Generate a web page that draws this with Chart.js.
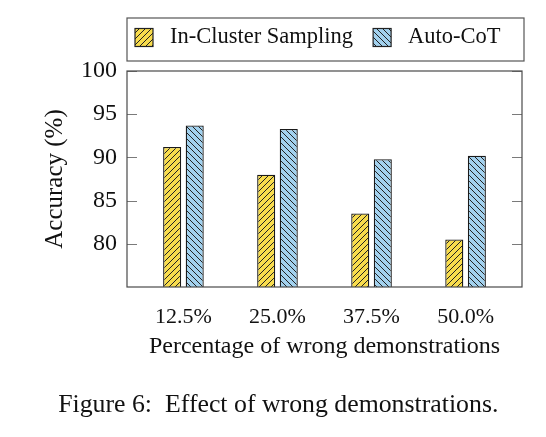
<!DOCTYPE html>
<html>
<head>
<meta charset="utf-8">
<script src="https://cdn.jsdelivr.net/npm/chart.js@4.4.1/dist/chart.umd.min.js"></script>
<style>
  body { margin: 0; background: #fff; }
  #wrap { position: relative; width: 546px; height: 437px; }
</style>
</head>
<body>
<div id="wrap"><canvas id="myChart" width="546" height="437"></canvas></div>
<script>
// data
var categories = ['12.5%', '25.0%', '37.5%', '50.0%'];
var inCluster = [91.2, 88.0, 83.5, 80.5];
var autoCoT = [93.7, 93.3, 89.8, 90.2];
var yTicks = [80, 85, 90, 95, 100];

var SERIF = '"Liberation Serif", "Times New Roman", serif';

// diagonal hatch fill, dir 1 = "/", -1 = "\"
function hatch(fill, dir) {
	var s = 6;
	var c = document.createElement('canvas');
	c.width = s; c.height = s;
	var g = c.getContext('2d');
	g.fillStyle = fill;
	g.fillRect(0, 0, s, s);
	g.strokeStyle = '#222';
	g.lineWidth = 1;
	g.beginPath();
	if (dir > 0) {
		g.moveTo(-1, s + 1); g.lineTo(s + 1, -1);
		g.moveTo(-1, 1); g.lineTo(1, -1);
		g.moveTo(s - 1, s + 1); g.lineTo(s + 1, s - 1);
	} else {
		g.moveTo(-1, -1); g.lineTo(s + 1, s + 1);
		g.moveTo(s - 1, -1); g.lineTo(s + 1, 1);
		g.moveTo(-1, s - 1); g.lineTo(1, s + 1);
	}
	g.stroke();
	return g.createPattern(c, 'repeat');
}

var ctx = document.getElementById('myChart').getContext('2d');
var yellowFill = hatch('#f8dc4c', 1);
var blueFill = hatch('#a2d1ee', -1);

function points(arr) {
	return arr.map(function(v, i) { return { x: i, y: v }; });
}

// frame, inward ticks, legend box and caption
var decor = {
	id: 'decor',
	afterDatasetsDraw: function(chart) {
		var a = chart.chartArea;
		var c = chart.ctx;
		var y = chart.scales.y;
		c.save();
		c.strokeStyle = '#7a7a7a';
		c.lineWidth = 1;
		yTicks.forEach(function(t) {
			var py = Math.round(y.getPixelForValue(t)) + 0.5;
			c.beginPath();
			c.moveTo(a.left, py); c.lineTo(a.left + 10, py);
			c.moveTo(a.right, py); c.lineTo(a.right - 10, py);
			c.stroke();
		});
		c.strokeStyle = '#4a4a4a';
		c.lineWidth = 1.2;
		c.strokeRect(a.left, a.top, a.right - a.left, a.bottom - a.top);

		// legend
		var top = a.top - 53, bottom = a.top - 10;
		c.strokeStyle = '#555';
		c.lineWidth = 1.2;
		c.strokeRect(a.left, top, a.right - a.left + 2, bottom - top);
		c.font = '22.5px ' + SERIF;
		c.textBaseline = 'middle';
		c.textAlign = 'left';
		c.fillStyle = '#111';
		var cy = (top + bottom) / 2 - 2;
		var x = a.left + 8;
		chart.data.datasets.forEach(function(ds) {
			c.fillStyle = ds.backgroundColor;
			c.fillRect(x, cy - 9, 18, 18);
			c.strokeStyle = '#222';
			c.lineWidth = 1.2;
			c.strokeRect(x, cy - 9, 18, 18);
			x += 18 + 17;
			c.fillStyle = '#111';
			c.fillText(ds.label, x, cy);
			x += c.measureText(ds.label).width + 20;
		});

		// caption
		c.font = '25.8px ' + SERIF;
		c.textBaseline = 'alphabetic';
		c.textAlign = 'left';
		c.fillText('Effect of wrong demonstrations.', 165, 412);
		c.textAlign = 'right';
		c.fillText('Figure 6:', 152, 412);
		c.restore();
	}
};

var myChart = new Chart(ctx, {
	type: 'bar',
	data: {
		datasets: [
			{
				label: 'In-Cluster Sampling',
				data: points(inCluster),
				backgroundColor: yellowFill,
				borderColor: '#1a1a1a',
				borderWidth: 1.3,
				borderSkipped: false
			},
			{
				label: 'Auto-CoT',
				data: points(autoCoT),
				backgroundColor: blueFill,
				borderColor: '#1a1a1a',
				borderWidth: 1.3,
				borderSkipped: false
			}
		]
	},
	options: {
		responsive: false,
		animation: false,
		categoryPercentage: 0.48,
		barPercentage: 0.8,
		layout: { padding: { top: 71, right: 24, left: 0, bottom: 0 } },
		plugins: {
			legend: { display: false },
			tooltip: { enabled: false }
		},
		scales: {
			x: {
				type: 'linear',
				offset: false,
				min: -0.6,
				max: 3.6,
				grid: { display: false, drawTicks: false },
				border: { display: false },
				afterBuildTicks: function(scale) {
					scale.ticks = categories.map(function(c, i) { return { value: i }; });
				},
				afterFit: function(scale) { scale.height = 150; },
				ticks: {
					padding: 17,
					color: '#111',
					font: { family: SERIF, size: 22 },
					callback: function(v) { return categories[v]; }
				},
				title: {
					display: true,
					text: 'Percentage of wrong demonstrations',
					color: '#111',
					font: { family: SERIF, size: 24 },
					padding: { top: 0, bottom: 76 }
				}
			},
			y: {
				min: 75,
				max: 100,
				grid: { display: false, drawTicks: false },
				border: { display: false },
				afterFit: function(scale) { scale.width = 127; },
				ticks: {
					stepSize: 5,
					padding: 10,
					color: '#111',
					font: { family: SERIF, size: 24 },
					callback: function(v) { return yTicks.indexOf(v) >= 0 ? v : ''; }
				},
				title: {
					display: true,
					text: 'Accuracy (%)',
					color: '#111',
					font: { family: SERIF, size: 25 },
					padding: { top: 40, bottom: 0 }
				}
			}
		}
	},
	plugins: [decor]
});
</script>
</body>
</html>
